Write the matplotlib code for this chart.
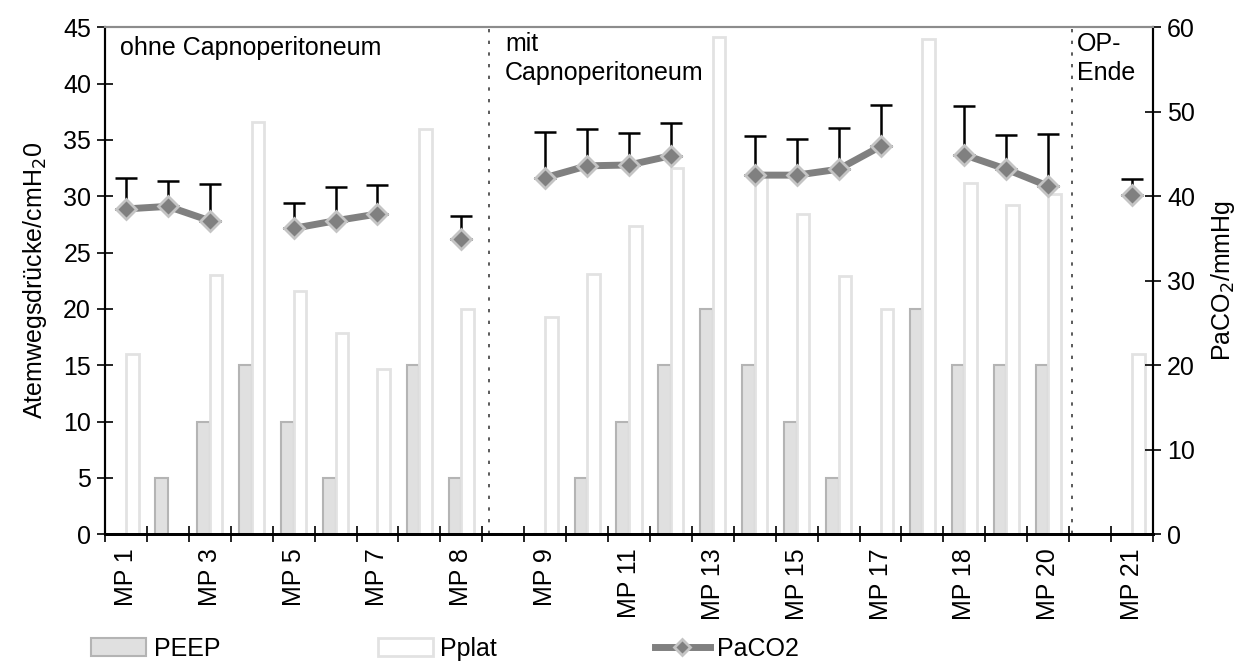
import numpy as np
import matplotlib
matplotlib.use("Agg")
import matplotlib.pyplot as plt
from matplotlib.lines import Line2D
from matplotlib.patches import Patch

plt.rcParams['font.family'] = ['Liberation Sans', 'DejaVu Sans']

# Messpunkte (jeder zweite wird beschriftet)
labels = ["MP 1", "MP 2", "MP 3", "MP 4", "MP 5", "MP 6", "MP 7", "", "MP 8", "",
          "MP 9", "MP 10", "MP 11", "MP 12", "MP 13", "MP 14", "MP 15", "MP 16",
          "MP 17", "", "MP 18", "MP 19", "MP 20", "", "MP 21"]
peep = [0, 5, 10, 15, 10, 5, 0, 15, 5, 0,
        0, 5, 10, 15, 20, 15, 10, 5, 0, 20,
        15, 15, 15, 0, 0]
pplat = [16, 0, 23, 36.6, 21.6, 17.9, 14.7, 36, 20, 0,
         19.3, 23.1, 27.4, 32.5, 44.1, 32, 28.4, 22.9, 20, 44,
         31.2, 29.2, 30.2, 0, 16]
nan = np.nan
paco2 = [38.5, 38.8, 37.1, nan, 36.2, 37.1, 37.9, nan, 34.9, nan,
         42.2, 43.6, 43.7, 44.8, nan, 42.5, 42.5, 43.2, 45.9, nan,
         44.9, 43.2, 41.2, nan, 40.1]
paco2_sd = [3.7, 3.0, 4.3, nan, 3.0, 4.0, 3.4, nan, 2.8, nan,
            5.4, 4.4, 3.8, 3.9, nan, 4.6, 4.3, 4.9, 4.9, nan,
            5.8, 4.1, 6.2, nan, 1.9]
phasen = ["ohne Capnoperitoneum", "mit\nCapnoperitoneum", "OP-\nEnde"]
grenzen = [8.66, 22.56]

x = np.arange(len(labels))
fs = 18

fig = plt.figure(figsize=(12.5, 6.66), dpi=100)
ax = fig.add_axes([0.084, 0.198, 0.8384, 0.761])
ax2 = ax.twinx()

w = 0.3
ax.bar(x - w / 2, peep, w, color="#e0e0e0", edgecolor="#b4b4b4", linewidth=1.5, zorder=2)
ax.bar(x + w / 2, pplat, w, color="white", edgecolor="#e2e2e2", linewidth=2, zorder=2)

for g in grenzen:
    ax.plot([g, g], [0, 45], color="#404040", linestyle=(0, (2, 5)), linewidth=1.2, zorder=1)

ax.text(-0.14, 43.2, phasen[0], fontsize=fs, va="center", ha="left")
ax.text(9.04, 44.6, phasen[1], fontsize=fs, va="top", ha="left", linespacing=1.25)
ax.text(22.69, 44.6, phasen[2], fontsize=fs, va="top", ha="left", linespacing=1.25)

ax.set_xlim(-0.5, len(labels) - 0.5)
ax.set_ylim(0, 45)
ax.set_yticks(np.arange(0, 46, 5))
ax.set_xticks(x[::2])
ax.set_xticklabels(labels[::2], rotation=90, fontsize=fs)
ax.set_xticks(np.arange(-0.5, len(labels), 1), minor=True)
ax.tick_params(axis="x", which="major", length=0, pad=10)
ax.tick_params(axis="x", which="minor", direction="inout", length=12, width=1.2)
ax.tick_params(axis="y", direction="inout", length=12, width=1.2, labelsize=fs, pad=4)
ax.set_ylabel("Atemwegsdrücke/cmH$_2$0", fontsize=fs, labelpad=10)

y = np.array(paco2)
sd = np.array(paco2_sd)
ax2.errorbar(x, y, yerr=[np.zeros_like(sd), sd], fmt="none", ecolor="black",
             elinewidth=1.8, capsize=8, capthick=1.8, zorder=3)
ax2.plot(x, y, color="#808080", linewidth=5, marker="D", markersize=10,
         markerfacecolor="#808080", markeredgecolor="#c4c4c4", markeredgewidth=2, zorder=4)
ax2.set_ylim(0, 60)
ax2.set_yticks(np.arange(0, 61, 10))
ax2.tick_params(axis="y", direction="inout", length=12, width=1.2, labelsize=fs, pad=4)
ax2.set_ylabel("PaCO$_2$/mmHg", fontsize=fs, labelpad=10)
ax2.set_zorder(ax.get_zorder() + 1)
ax2.patch.set_visible(False)

for a in (ax, ax2):
    a.spines["top"].set_color("#8c8c8c")
    a.spines["top"].set_linewidth(1.5)
    a.spines["left"].set_linewidth(1.5)
    a.spines["right"].set_linewidth(1.5)
    a.spines["bottom"].set_linewidth(2)

handles = [
    Patch(facecolor="#e0e0e0", edgecolor="#b4b4b4", linewidth=1.5),
    Patch(facecolor="white", edgecolor="#e2e2e2", linewidth=2),
    Line2D([0], [0], color="#808080", linewidth=5, marker="D", markersize=8,
           markerfacecolor="#808080", markeredgecolor="#c4c4c4", markeredgewidth=2),
]
fig.legend(handles, ["PEEP", "Pplat", "PaCO2"], loc="lower left",
           bbox_to_anchor=(0.055, -0.026), ncol=3, frameon=False,
           handlelength=2.2, handleheight=0.75, handletextpad=0.3, columnspacing=6.3,
           prop={"size": fs})

fig.savefig("out.png", dpi=100)
